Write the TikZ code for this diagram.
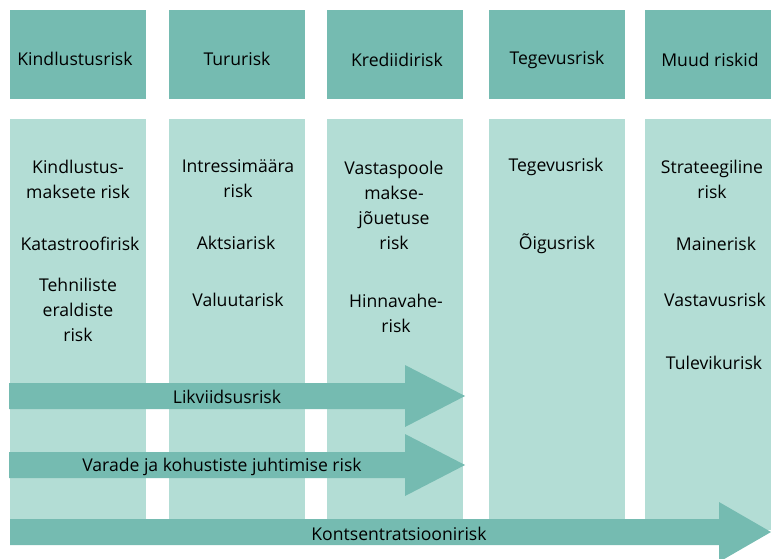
\documentclass[tikz,border=0pt]{standalone}
\usepackage{fontspec}
\setmainfont{Open Sans}
\definecolor{darkteal}{HTML}{75BBB1}
\definecolor{lightteal}{HTML}{B3DDD5}
\begin{document}
\begin{tikzpicture}[x=1pt,y=-1pt,
  head/.style={fill=darkteal,draw=none},
  colbox/.style={fill=lightteal,draw=none},
  lbl/.style={font=\fontsize{17.6}{25}\selectfont,align=center,text=black,inner sep=0pt,yshift=-2pt},
  bararrow/.style={fill=darkteal,draw=none}]
\useasboundingbox (0,0) rectangle (771,558);
\clip (0,0) rectangle (771,558);
% headers
\foreach \n/\a/\b in {1/10/146,2/169/305,3/327/463,4/489/625,5/645/771}{
  \fill[head] (\a,10) rectangle (\b,99);
  \fill[colbox] (\a,119) rectangle (\b,530);
}
\node[lbl] (h1) at (75,57) {Kindlustusrisk};
\node[lbl] (h2) at (237,57) {Tururisk};
\node[lbl] (h3) at (397,58) {Krediidirisk};
\node[lbl] (h4) at (557,58) {Tegevusrisk};
\node[lbl] (h5) at (710,58) {Muud riskid};
% column 1
\node[lbl] (c1a) at (78,177) {Kindlustus-\\maksete risk};
\node[lbl] (c1b) at (80,242) {Katastroofirisk};
\node[lbl] (c1c) at (78,308) {Tehniliste\\eraldiste\\risk};
% column 2
\node[lbl] (c2a) at (238,177) {Intressimäära\\risk};
\node[lbl] (c2b) at (236,241) {Aktsiarisk};
\node[lbl] (c2c) at (238,298) {Valuutarisk};
% column 3
\node[lbl] (c3a) at (394,203) {Vastaspoole\\makse-\\jõuetuse\\risk};
\node[lbl] (c3b) at (396,311) {Hinnavahe-\\risk};
% column 4
\node[lbl] (c4a) at (556,165) {Tegevusrisk};
\node[lbl] (c4b) at (557,242) {Õigusrisk};
% column 5
\node[lbl] (c5a) at (712,177) {Strateegiline\\risk};
\node[lbl] (c5b) at (716,242) {Mainerisk};
\node[lbl] (c5c) at (715,298) {Vastavusrisk};
\node[lbl] (c5d) at (714,361) {Tulevikurisk};
% arrows
\fill[bararrow] (9,383) -- (405,383) -- (405,365) -- (465,396) -- (405,427) -- (405,409) -- (9,409) -- cycle;
\fill[bararrow] (9,452) -- (405,452) -- (405,434) -- (465,465) -- (405,496) -- (405,478) -- (9,478) -- cycle;
\fill[bararrow] (10,519) -- (719,519) -- (719,502) -- (771,532) -- (719,562) -- (719,545) -- (10,545) -- cycle;
\node[lbl] (a1) at (227,395) {Likviidsusrisk};
\node[lbl] (a2) at (222,465) {Varade ja kohustiste juhtimise risk};
\node[lbl] (a3) at (399,532) {Kontsentratsioonirisk};
\end{tikzpicture}
\end{document}
